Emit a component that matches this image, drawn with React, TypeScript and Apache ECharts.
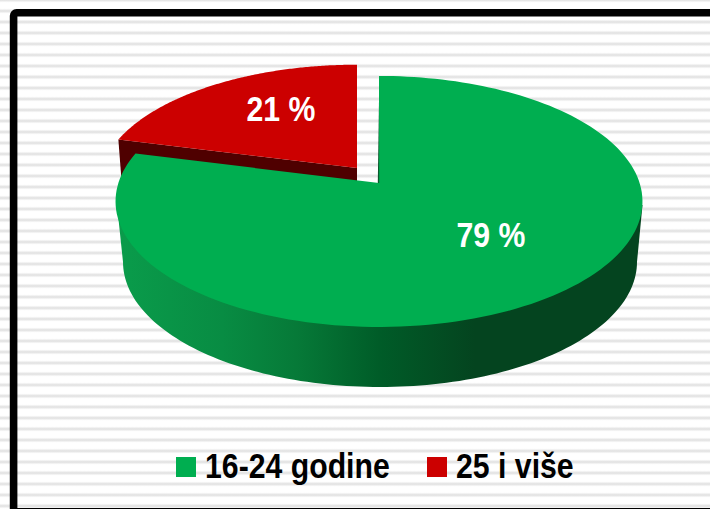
import React, { useEffect, useRef } from "react";
import * as echarts from "echarts";

const categories = ["16-24 godine", "25 i više"];
const shares = [79, 21];
const labels = ["79 %", "21 %"];
const topColors = ["#00AE50", "#CC0000"];

const FONT = '"Liberation Sans", Arial, sans-serif';
const NARROW = 0.84; // the reference's type is horizontally condensed
const total = shares.reduce((a, b) => a + b, 0);

// perspective projection of the pie's unit disc
function project(deg: number, ox: number, oy: number, kx: number, ky: number): number[] {
  const t = (deg * Math.PI) / 180;
  const u = Math.sin(t);
  const v = -Math.cos(t);
  const d = 1 - 0.147 * v;
  return [ox + (kx * 260.6 * u) / d, oy + (ky * 122.8 * v) / d];
}
function arc(from: number, to: number, ox: number, oy: number, kx: number, ky: number): number[][] {
  const pts: number[][] = [];
  const n = 160;
  for (let i = 0; i <= n; i++) pts.push(project(from + ((to - from) * i) / n, ox, oy, kx, ky));
  return pts;
}

function renderSlice(index: number) {
  return (_params: any, api: any) => {
    const value = api.value(0);
    const before = shares.slice(0, index).reduce((a, b) => a + b, 0);
    const a0 = (before / total) * 360;
    const a1 = a0 + (value / total) * 360;
    const children: any[] = [];
    if (index === 0) {
      const wall: number[][] = [[642.5, 205]];
      for (let i = 0; i <= 120; i++) {
        const t = (i / 120) * Math.PI;
        wall.push([380 + 257 * Math.cos(t), 262 + 125 * Math.sin(t)]);
      }
      wall.push([117, 205]);
      children.push({
        type: "polygon",
        shape: { points: wall },
        style: {
          fill: new echarts.graphic.LinearGradient(0, 0, 1, 0, [
            { offset: 0, color: "#0A9C4B" },
            { offset: 0.2, color: "#088C43" },
            { offset: 0.34, color: "#067A38" },
            { offset: 0.5, color: "#005C28" },
            { offset: 0.68, color: "#04441F" },
            { offset: 1, color: "#04441F" },
          ]),
        },
      });
      const apex = [379, 183];
      children.push({
        type: "polygon",
        shape: { points: [apex, ...arc(a0, a1, 379, 183, 1, 1)] },
        style: { fill: topColors[index] },
      });
      children.push({
        type: "polygon",
        shape: { points: [[379, 100], [379.2, 183], [377.8, 183]] },
        style: { fill: "#0A5A2E" },
      });
      children.push(labelEl(labels[index], 491, 235, "#FFFFFF"));
    } else {
      const ox = 357;
      const oy = 168;
      const rim = arc(a0, a1, ox, oy, 0.98, 0.965);
      const left = rim[0];
      children.push({
        type: "polygon",
        shape: { points: [left, [ox, oy], [ox, 195], [124, 195], [left[0] + 3, left[1] + 39]] },
        style: { fill: "#4F0000" },
      });
      children.push({
        type: "polygon",
        shape: { points: [[ox, oy], ...rim] },
        style: { fill: topColors[index] },
      });
      children.push(labelEl(labels[index], 281, 109, "#FFFFFF"));
    }
    return { type: "group", children };
  };
}
function labelEl(text: string, x: number, y: number, fill: string) {
  return {
    type: "text",
    x,
    y,
    scaleX: NARROW,
    style: {
      text,
      fill,
      font: `bold 36px ${FONT}`,
      align: "center",
      verticalAlign: "middle",
    },
  };
}
function legendItem(i: number, x: number) {
  return [
    {
      type: "rect",
      shape: { x, y: 457, width: 20, height: 20 },
      style: { fill: topColors[i] },
    },
    {
      type: "text",
      x: x + 29,
      y: 466,
      scaleX: NARROW,
      style: {
        text: categories[i],
        fill: "#000000",
        font: `bold 36px ${FONT}`,
        align: "left",
        verticalAlign: "middle",
      },
    },
  ];
}

export default function App() {
  const ref = useRef<HTMLDivElement>(null);
  useEffect(() => {
    document.body.style.margin = "0";
    const chart = echarts.init(ref.current!, undefined, { renderer: "svg" });
    chart.setOption({
      animation: false,
      backgroundColor: "transparent",
      graphic: [
        {
          type: "rect",
          shape: { x: 13.6, y: 12.8, width: 800, height: 499, r: 3 },
          style: { fill: "transparent", stroke: "#000000", lineWidth: 7.6 },
        },
        ...legendItem(0, 176),
        ...legendItem(1, 427),
      ],
      // red is painted first, the larger green slice covers it
      series: [1, 0].map((i) => ({
        type: "custom",
        name: categories[i],
        coordinateSystem: "none",
        silent: true,
        itemStyle: { color: topColors[i] },
        data: [[shares[i]]],
        renderItem: renderSlice(i),
      })),
    });
    return () => chart.dispose();
  }, []);
  return (
    <div
      ref={ref}
      style={{
        width: 710,
        height: 509,
        background:
          "repeating-linear-gradient(180deg, #dfdfdf 0px, #f0f0f0 1.3px, #ffffff 2.6px, #ffffff 8.4px, #f0f0f0 9.7px, #dfdfdf 11px)",
      }}
    />
  );
}
